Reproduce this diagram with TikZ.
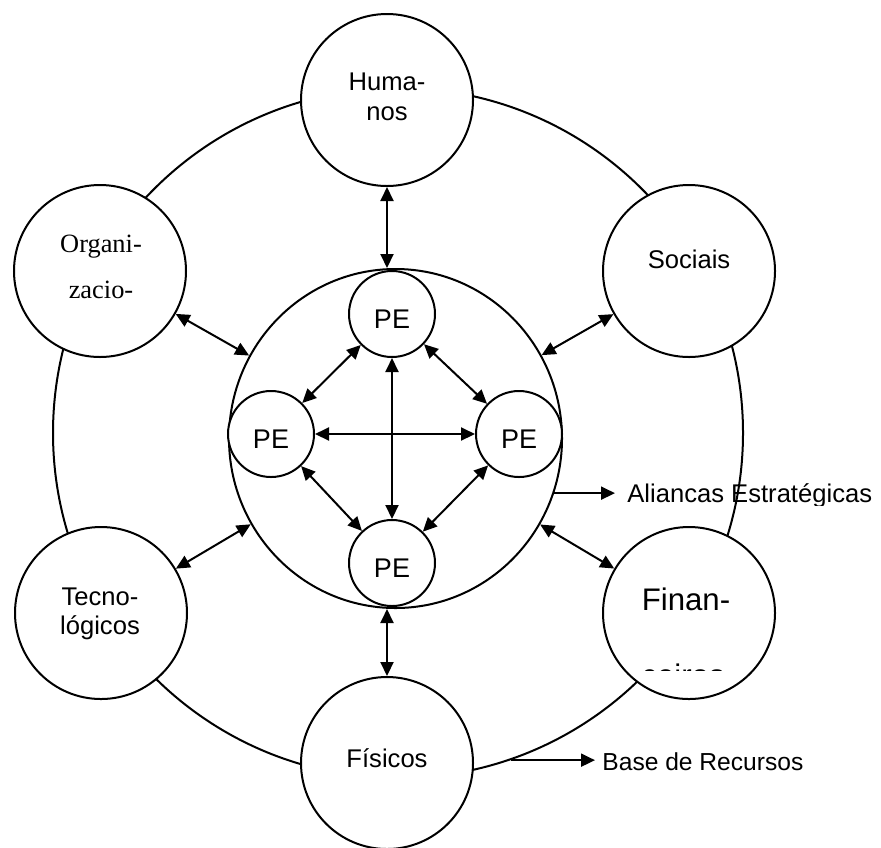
\documentclass[tikz,border=0pt]{standalone}
\usepackage{fontspec}
\setmainfont{Liberation Sans}
\newfontfamily\timesfont{Liberation Serif}
\usetikzlibrary{arrows.meta,shapes.geometric,calc}
\begin{document}
\begin{tikzpicture}[x=0.5pt,y=-0.5pt,
  ringline/.style={line width=1pt},
  sat/.style={circle, draw, ringline, fill=white, minimum size=86pt, inner sep=0pt},
  pecirc/.style={circle, draw, ringline, fill=white, minimum size=43pt, inner sep=0pt},
  lbl/.style={inner sep=0pt, anchor=base, font=\fontsize{12.8}{14}\selectfont},
  pelbl/.style={inner sep=0pt, anchor=base, font=\fontsize{13.5}{15}\selectfont},
  tip/.tip={Triangle[length=7pt,width=6.5pt]},
  biarrow/.style={tip-tip, line width=1pt},
  onearrow/.style={-tip, line width=1pt}]
\useasboundingbox (0,0) rectangle (881,847);
% outer ring
\node[circle, draw, ringline, minimum size=345pt, inner sep=0pt] (outer) at (398,433) {};
% inner circle
\node[ellipse, draw, ringline, minimum width=166.5pt, minimum height=169.5pt, inner sep=0pt] (inner) at (395.5,438.5) {};
% satellites
\node[sat] (hum) at (387,100) {};
\node[sat] (org) at (100,271) {};
\node[sat] (soc) at (689,271) {};
\node[sat] (tec) at (101,613) {};
\node[sat] (fin) at (689,613) {};
\node[sat] (fis) at (387,763) {};
% PE circles
\node[pecirc] (pet) at (392,314) {};
\node[pecirc] (pel) at (271,434) {};
\node[pecirc] (per) at (519,434) {};
\node[pecirc] (peb) at (392,563) {};
% labels
\node[lbl] (humt1) at (387,90) {Huma-};
\node[lbl] (humt2) at (387,120) {nos};
\node[lbl] (soct) at (689,268) {Sociais};
\node[inner sep=0pt, anchor=base, font=\timesfont\fontsize{13.2}{15}\selectfont] (orgt1) at (101,252.7) {Organi-};
\node[inner sep=0pt, anchor=base, font=\timesfont\fontsize{13.2}{15}\selectfont] (orgt2) at (101,298) {zacio-};
\node[lbl] (tect1) at (100,605) {Tecno-};
\node[lbl] (tect2) at (100,634) {lógicos};
\node[inner sep=0pt, anchor=base, font=\fontsize{15.6}{18}\selectfont] (fint1) at (686,610) {Finan-};
\begin{scope}
  \clip (600,640) rectangle (780,670);
  \node[inner sep=0pt, anchor=base, font=\fontsize{15.6}{18}\selectfont] (fint2) at (683,686) {ceiros};
\end{scope}
\node[lbl] (fist) at (387,767.3) {Físicos};
\node[pelbl] (pett) at (392,328.7) {PE};
\node[pelbl] (pelt) at (271,448.5) {PE};
\node[pelbl] (pert) at (519,448.5) {PE};
\node[pelbl] (pebt) at (392,577.7) {PE};
\begin{scope}
  \clip (600,470) rectangle (881,505.5);
  \node[inner sep=0pt, anchor=base west, font=\fontsize{12.8}{14}\selectfont] (ali) at (627,502.7) {Aliancas Estratégicas};
\end{scope}
\node[inner sep=0pt, anchor=base west, font=\fontsize{12.3}{14}\selectfont] (base) at (602,770.7) {Base de Recursos};
% connectors
\draw[biarrow] (hum.south) -- (hum.south |- inner.north);
\draw[biarrow] (fis.north) -- (fis.north |- inner.south);
\draw[biarrow] (org) -- (inner);
\draw[biarrow] (soc) -- (inner);
\draw[biarrow] (tec) -- (inner);
\draw[biarrow] (fin) -- (inner);
\draw[biarrow] (pet) -- (peb);
\draw[biarrow] (pel) -- (per);
\draw[biarrow] (pet) -- (pel);
\draw[biarrow] (pet) -- (per);
\draw[biarrow] (peb) -- (pel);
\draw[biarrow] (peb) -- (per);
\draw[onearrow] (inner.-19) -- ($(inner.-19 -| ali.west)+(-12,0)$);
\draw[onearrow] (outer.-71) -- ($(outer.-71 -| base.west)+(-7,0)$);
\end{tikzpicture}
\end{document}
